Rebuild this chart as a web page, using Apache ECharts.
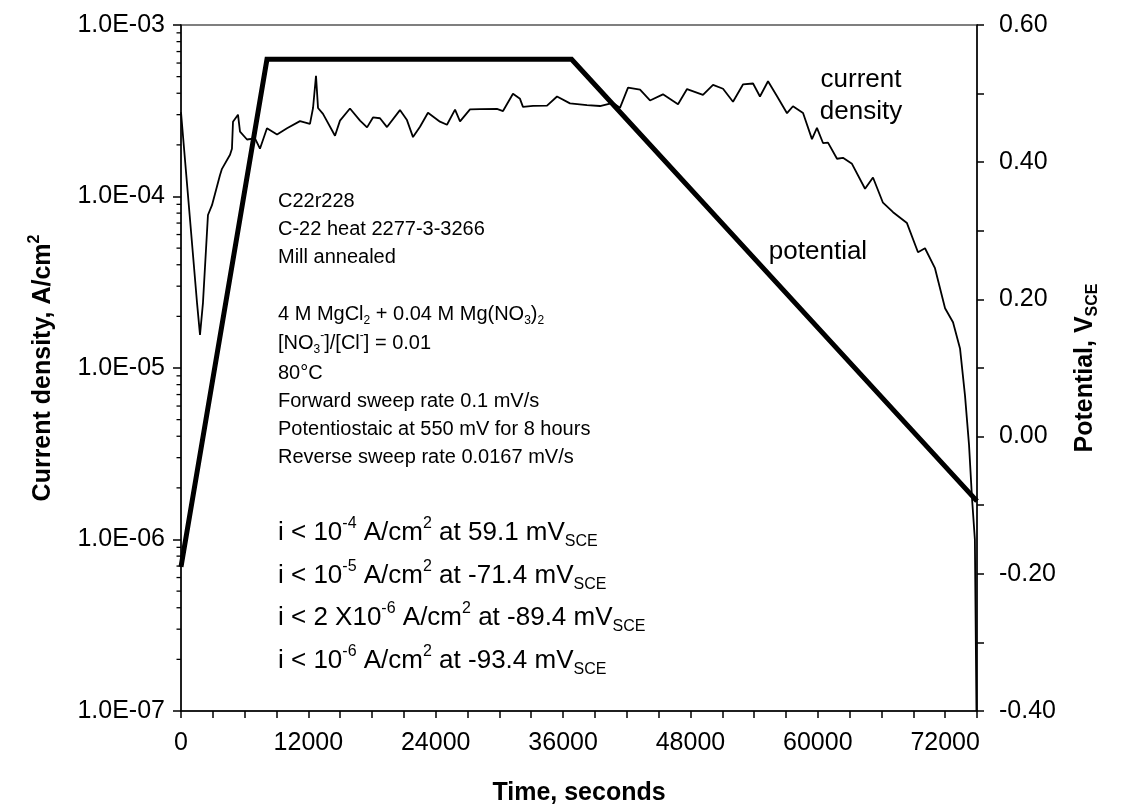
<!DOCTYPE html>
<html><head><meta charset="utf-8">
<script src="https://cdn.jsdelivr.net/npm/echarts@6/dist/echarts.min.js"></script>
<style>html,body{margin:0;padding:0;background:#fff}#c{width:1130px;height:811px}</style>
</head><body><div id="c"></div>
<script>
// ---- data ----
const timeCurrent = [0, 1510, 1790, 2070, 2540, 2920, 3670, 3860, 4620, 4800, 4900, 5370, 5560, 6220, 6970, 7440, 8100, 9050, 9990, 11210, 12150, 12440, 12720, 12910, 13380, 14510, 14980, 15920, 16870, 17530, 18090, 18750, 19410, 20630, 21290, 21860, 22520, 23270, 24400, 25060, 25820, 26290, 27230, 28170, 29770, 30340, 31280, 31940, 32220, 33170, 34490, 35430, 36650, 38250, 39480, 40700, 41360, 42120, 43250, 44190, 45410, 46830, 47680, 49180, 50130, 51070, 52010, 52950, 53900, 54550, 55310, 56160, 57100, 57660, 58610, 59450, 59920, 60490, 60960, 61810, 62370, 63220, 64450, 65200, 66140, 67090, 68400, 69440, 70100, 71040, 71990, 72740, 73400, 73870, 74250, 74530, 74800, 74950];
const currentDensity = [3.1e-4, 2.4e-5, 1.56e-5, 2.4e-5, 7.8e-5, 8.9e-5, 1.33e-4, 1.45e-4, 1.75e-4, 1.9e-4, 2.73e-4, 3.0e-4, 2.39e-4, 2.15e-4, 2.18e-4, 1.9e-4, 2.5e-4, 2.3e-4, 2.5e-4, 2.75e-4, 2.65e-4, 3.28e-4, 5.06e-4, 3.28e-4, 3.03e-4, 2.26e-4, 2.77e-4, 3.26e-4, 2.77e-4, 2.53e-4, 2.89e-4, 2.86e-4, 2.54e-4, 3.19e-4, 2.79e-4, 2.22e-4, 2.55e-4, 3.08e-4, 2.73e-4, 2.62e-4, 3.21e-4, 2.74e-4, 3.22e-4, 3.23e-4, 3.24e-4, 3.15e-4, 3.97e-4, 3.71e-4, 3.33e-4, 3.38e-4, 3.39e-4, 3.83e-4, 3.49e-4, 3.41e-4, 3.37e-4, 3.51e-4, 3.29e-4, 4.31e-4, 4.2e-4, 3.63e-4, 3.94e-4, 3.45e-4, 4.23e-4, 3.91e-4, 4.48e-4, 4.25e-4, 3.57e-4, 4.5e-4, 4.56e-4, 3.83e-4, 4.7e-4, 3.84e-4, 3.06e-4, 3.36e-4, 3.07e-4, 2.16e-4, 2.51e-4, 2.05e-4, 2.06e-4, 1.66e-4, 1.68e-4, 1.55e-4, 1.11e-4, 1.29e-4, 9.2e-5, 8.1e-5, 7.0e-5, 4.73e-5, 4.99e-5, 3.82e-5, 2.23e-5, 1.85e-5, 1.3e-5, 6.9e-6, 3.55e-6, 1.74e-6, 1.0e-6, 1.0e-7];
const timePotential = [0, 8100, 36800, 75000];
const potential = [-0.19, 0.55, 0.55, -0.094];
const xTickLabels = ['0', '12000', '24000', '36000', '48000', '60000', '72000'];
const leftTickLabels = ['1.0E-07', '1.0E-06', '1.0E-05', '1.0E-04', '1.0E-03'];
const rightTickLabels = ['-0.40', '-0.20', '0.00', '0.20', '0.40', '0.60'];

// axis structure: log minor tick positions (2..9 in each decade)
const logMinorTicks = [];
for (let e = -7; e < -3; e++) for (let k = 2; k <= 9; k++) logMinorTicks.push(k * Math.pow(10, e));

const FONT = '"Liberation Sans", Arial, sans-serif';

function richStyles(F) {
  return {
    n: { fontSize: F, fontFamily: FONT, lineHeight: Math.round(F * 1.3), fill: '#000', color: '#000' },
    sup: { fontSize: Math.round(F * 0.62), fontFamily: FONT, verticalAlign: 'top', lineHeight: Math.round(F * 0.62), fill: '#000', color: '#000' },
    sub: { fontSize: Math.round(F * 0.62), fontFamily: FONT, verticalAlign: 'bottom', lineHeight: Math.round(F * 0.9), fill: '#000', color: '#000' }
  };
}
function txt(x, y, text, F, align) {
  return {
    type: 'text', x: x, y: y, silent: true,
    style: { text: text, rich: richStyles(F), align: align || 'left', verticalAlign: 'middle', fill: '#000', fontSize: F, fontFamily: FONT }
  };
}

const notes = [
  txt(278, 201, '{n|C22r228}', 20),
  txt(278, 229, '{n|C-22 heat 2277-3-3266}', 20),
  txt(278, 257, '{n|Mill annealed}', 20),
  txt(278, 314, '{n|4 M MgCl}{sub|2}{n| + 0.04 M Mg(NO}{sub|3}{n|)}{sub|2}', 20),
  txt(278, 343, '{n|[NO}{sub|3}{sup|-}{n|]/[Cl}{sup|-}{n|] = 0.01}', 20),
  txt(278, 373, '{n|80°C}', 20),
  txt(278, 401, '{n|Forward sweep rate 0.1 mV/s}', 20),
  txt(278, 429, '{n|Potentiostaic at 550 mV for 8 hours}', 20),
  txt(278, 457, '{n|Reverse sweep rate 0.0167 mV/s}', 20),
  txt(278, 533, '{n|i < 10}{sup|-4}{n| A/cm}{sup|2}{n| at 59.1 mV}{sub|SCE}', 26),
  txt(278, 576, '{n|i < 10}{sup|-5}{n| A/cm}{sup|2}{n| at -71.4 mV}{sub|SCE}', 26),
  txt(278, 618, '{n|i < 2 X10}{sup|-6}{n| A/cm}{sup|2}{n| at -89.4 mV}{sub|SCE}', 26),
  txt(278, 661, '{n|i < 10}{sup|-6}{n| A/cm}{sup|2}{n| at -93.4 mV}{sub|SCE}', 26),
  txt(861, 80, '{n|current}', 26, 'center'),
  txt(861, 112, '{n|density}', 26, 'center'),
  txt(818, 252, '{n|potential}', 26, 'center')
];

const chart = echarts.init(document.getElementById('c'), null, { renderer: 'canvas' });
chart.setOption({
  animation: false,
  backgroundColor: '#fff',
  grid: { left: 181, right: 153, top: 25, bottom: 99, show: true, borderColor: '#555', borderWidth: 1.5, backgroundColor: 'transparent' },
  xAxis: {
    type: 'value', min: 0, max: 75000, interval: 3000,
    name: 'Time, seconds', nameLocation: 'middle', nameGap: 70,
    nameTextStyle: { fontSize: 25, fontWeight: 'bold', fontFamily: FONT, color: '#000' },
    axisLine: { show: true, onZero: false, lineStyle: { color: '#000', width: 1.5 } },
    axisTick: { show: true, inside: false, length: 7, lineStyle: { color: '#000', width: 1.5 } },
    axisLabel: { margin: 20, fontSize: 25, fontFamily: FONT, color: '#000',
      formatter: v => { const s = String(Math.round(v)); return xTickLabels.indexOf(s) >= 0 ? s : ''; } },
    splitLine: { show: false }
  },
  yAxis: [{
    type: 'log', logBase: 10, min: 1e-7, max: 1e-3, position: 'left',
    name: '{n|Current density, A/cm}{sup|2}', nameLocation: 'middle', nameGap: 122, nameRotate: 90,
    nameTextStyle: { rich: {
      n: { fontSize: 25, fontWeight: 'bold', fontFamily: FONT, color: '#000', lineHeight: 32 },
      sup: { fontSize: 16, fontWeight: 'bold', fontFamily: FONT, color: '#000', verticalAlign: 'top', lineHeight: 16 } } },
    axisLine: { show: true, onZero: false, lineStyle: { color: '#000', width: 1.5 } },
    axisTick: { show: true, inside: false, length: 8, lineStyle: { color: '#000', width: 1.5 } },
    axisLabel: { margin: 16, fontSize: 25, fontFamily: FONT, color: '#000',
      formatter: v => { const e = Math.round(Math.log10(v)); const s = '1.0E-' + String(Math.abs(e)).padStart(2, '0'); return leftTickLabels.indexOf(s) >= 0 ? s : ''; } },
    splitLine: { show: false }, minorTick: { show: false }
  }, {
    type: 'value', min: -0.4, max: 0.6, interval: 0.1, position: 'right',
    name: '{n|Potential, V}{sub|SCE}', nameLocation: 'middle', nameGap: 92, nameRotate: 90,
    nameTextStyle: { rich: {
      n: { fontSize: 25, fontWeight: 'bold', fontFamily: FONT, color: '#000', lineHeight: 32 },
      sub: { fontSize: 16, fontWeight: 'bold', fontFamily: FONT, color: '#000', verticalAlign: 'bottom', lineHeight: 22 } } },
    axisLine: { show: true, onZero: false, lineStyle: { color: '#000', width: 1.5 } },
    axisTick: { show: true, inside: false, length: 7, lineStyle: { color: '#000', width: 1.5 } },
    axisLabel: { margin: 22, fontSize: 25, fontFamily: FONT, color: '#000',
      formatter: v => { let r = Math.round(v * 100) / 100; if (Math.abs(r) < 1e-9) r = 0; const s = r.toFixed(2); return rightTickLabels.indexOf(s) >= 0 ? s : ''; } },
    splitLine: { show: false }
  }],
  graphic: { elements: notes },
  series: [{
    name: 'current density', type: 'line', xAxisIndex: 0, yAxisIndex: 0,
    data: timeCurrent.map((t, i) => [t, currentDensity[i]]),
    showSymbol: false, symbol: 'none', smooth: false, clip: true,
    lineStyle: { color: '#000', width: 1.8 }, z: 3
  }, {
    name: 'potential', type: 'line', xAxisIndex: 0, yAxisIndex: 1,
    data: timePotential.map((t, i) => [t, potential[i]]),
    showSymbol: false, symbol: 'none', smooth: false,
    lineStyle: { color: '#000', width: 5, join: 'miter' }, z: 2
  }, {
    name: 'minor ticks', type: 'custom', xAxisIndex: 0, yAxisIndex: 0, silent: true, clip: false,
    data: logMinorTicks.map(v => [0, v]),
    renderItem: (params, api) => {
      const p = api.coord([0, api.value(1)]);
      return { type: 'line', shape: { x1: p[0] - 4.5, y1: p[1], x2: p[0], y2: p[1] }, style: { stroke: '#000', lineWidth: 1.3 } };
    }, z: 4
  }]
});
</script></body></html>
